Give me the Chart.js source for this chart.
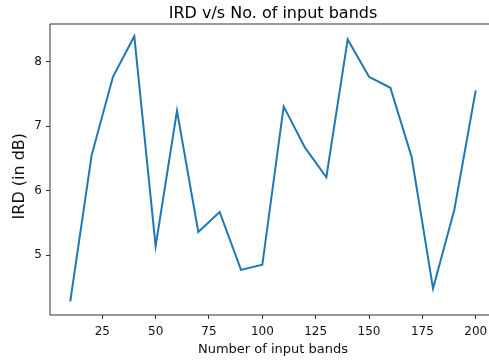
<!DOCTYPE html>
<html>
<head>
<meta charset="utf-8">
<script src="https://cdn.jsdelivr.net/npm/chart.js@4.4.1/dist/chart.umd.min.js"></script>
<style>
  html, body { margin: 0; padding: 0; background: #fff; }
  #wrap { width: 489px; height: 363px; overflow: hidden; position: relative; }
  #irdChart { position: absolute; left: 0; top: 0; }
</style>
</head>
<body>
<div id="wrap"><canvas id="irdChart" width="500" height="363"></canvas></div>
<script>
const bands = [10, 20, 30, 40, 50, 60, 70, 80, 90, 100, 110, 120, 130, 140, 150, 160, 170, 180, 190, 200];
const ird = [4.28, 6.55, 7.77, 8.40, 5.14, 7.24, 5.36, 5.67, 4.77, 4.85, 7.31, 6.67, 6.21, 8.35, 7.77, 7.60, 6.52, 4.48, 5.71, 7.56];
const xTicks = [25, 50, 75, 100, 125, 150, 175, 200];
const yTicks = [5, 6, 7, 8];

const ink = '#333';
const font = 'DejaVu Sans';

// left, top and bottom spines (the right one is cropped off in the original)
const frame = {
    id: 'frame',
    afterDraw(chart) {
        const { ctx, chartArea: a } = chart;
        ctx.save();
        ctx.strokeStyle = ink;
        ctx.lineWidth = 1;
        ctx.beginPath();
        ctx.moveTo(a.right + 20, a.top);
        ctx.lineTo(a.left, a.top);
        ctx.lineTo(a.left, a.bottom);
        ctx.lineTo(a.right + 20, a.bottom);
        ctx.stroke();
        ctx.restore();
    }
};

const ctx = document.getElementById('irdChart').getContext('2d');
new Chart(ctx, {
    type: 'line',
    data: {
        datasets: [{
            data: bands.map((b, i) => ({ x: b, y: ird[i] })),
            borderColor: '#1f77b4',
            borderWidth: 2,
            pointRadius: 0,
            tension: 0,
            fill: false
        }]
    },
    options: {
        responsive: false,
        animation: false,
        layout: { padding: { left: 0, right: 4, top: 0, bottom: 0 } },
        plugins: {
            legend: { display: false },
            tooltip: { enabled: false },
            title: {
                display: true,
                fullSize: false,
                text: 'IRD v/s No. of input bands',
                color: '#000',
                font: { family: font, size: 16, weight: 'normal' },
                padding: { top: 4.3, bottom: 0.5 }
            }
        },
        scales: {
            x: {
                type: 'linear',
                min: 0.5,
                max: 209.5,
                afterBuildTicks: s => { s.ticks = xTicks.map(v => ({ value: v })); },
                afterFit: s => { s.height = 48; },
                grid: { drawOnChartArea: false, drawTicks: true, tickLength: 4, color: ink, tickColor: ink },
                border: { display: false },
                ticks: { color: '#111', padding: 6, maxRotation: 0, font: { family: font, size: 12 } },
                title: {
                    display: true,
                    text: 'Number of input bands',
                    color: '#111',
                    font: { family: font, size: 13 },
                    padding: { top: 0, bottom: 5.7 }
                }
            },
            y: {
                type: 'linear',
                min: 4.07,
                max: 8.59,
                afterBuildTicks: s => { s.ticks = yTicks.map(v => ({ value: v })); },
                afterFit: s => { s.width = 50; },
                grid: { drawOnChartArea: false, drawTicks: true, tickLength: 4, color: ink, tickColor: ink },
                border: { display: false },
                ticks: { color: '#111', padding: 4, font: { family: font, size: 12 } },
                title: {
                    display: true,
                    text: 'IRD (in dB)  \u2009',
                    color: '#111',
                    font: { family: font, size: 16 },
                    padding: { top: 10, bottom: 0 }
                }
            }
        }
    },
    plugins: [frame]
});
</script>
</body>
</html>
